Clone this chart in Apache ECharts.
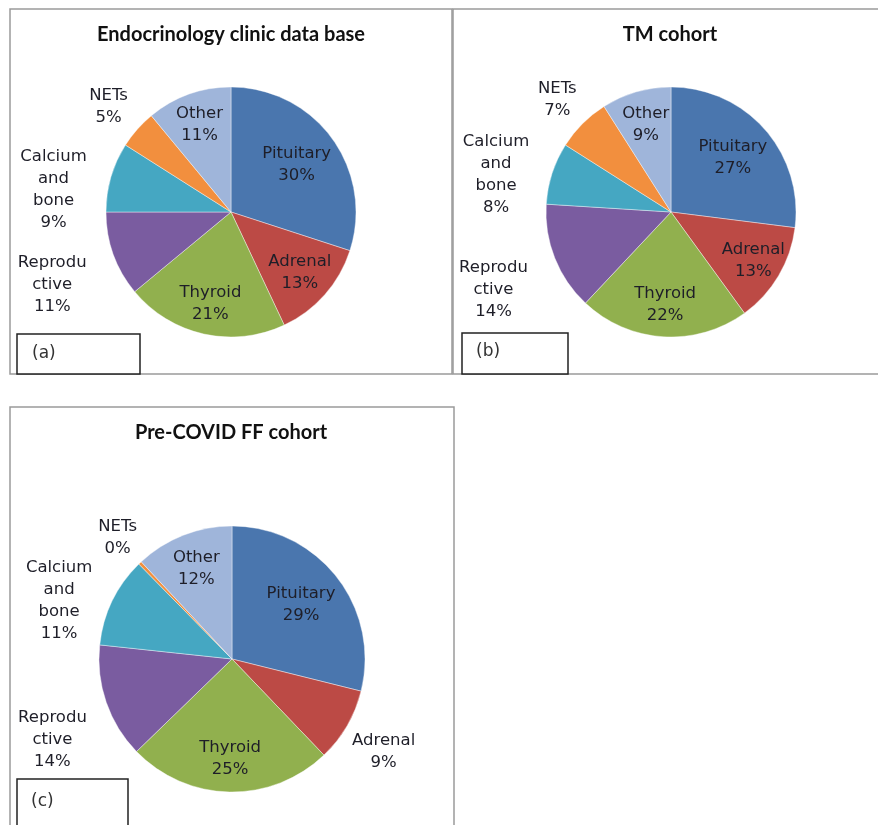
<!DOCTYPE html>
<html>
<head>
<meta charset="utf-8">
<script src="https://cdn.jsdelivr.net/npm/echarts@6/dist/echarts.min.js"></script>
<style>
  html, body { margin: 0; padding: 0; background: #ffffff; }
  #chart { width: 878px; height: 825px; }
</style>
</head>
<body>
<div id="chart"></div>
<script>
// ---- data ----
const categories = ['Pituitary', 'Adrenal', 'Thyroid', 'Reproductive', 'Calcium and bone', 'NETs', 'Other'];
const endocrinologyClinic = [30, 13, 21, 11, 9, 5, 11];
const tmCohort = [27, 13, 22, 14, 8, 7, 9];
const preCovidFF = [29, 9, 25, 14, 11, 0.4, 12];
const chartTitles = ['Endocrinology clinic data base', 'TM cohort', 'Pre-COVID FF cohort'];
const panelTags = ['(a)', '(b)', '(c)'];

// ---- styles ----
const colors = ['#4A76AE', '#BC4A45', '#91B04E', '#7A5CA0', '#45A7C2', '#F28F3E', '#9FB5DA'];
const wrapped = {
  'Reproductive': 'Reprodu\nctive',
  'Calcium and bone': 'Calcium\nand\nbone'
};
const labelFont = 'DejaVu Sans, Verdana, sans-serif';

// pie geometry (px) and label placement (inside: radial factor; outside: offset in radii)
const panels = [
  { data: endocrinologyClinic, center: [231, 212], r: 125,
    place: [{ k: 0.62 }, { k: 0.70 }, { k: 0.72 }, { o: [-1.43, 0.58] }, { o: [-1.42, -0.18] }, { o: [-0.98, -0.84] }, { k: 0.71 }] },
  { data: tmCohort, center: [671, 212], r: 125,
    place: [{ k: 0.63 }, { k: 0.73 }, { k: 0.71 }, { o: [-1.42, 0.62] }, { o: [-1.40, -0.30] }, { o: [-0.91, -0.90] }, { k: 0.69 }] },
  { data: preCovidFF, center: [232, 659], r: 133,
    place: [{ k: 0.63 }, { o: [1.14, 0.70] }, { k: 0.72 }, { o: [-1.35, 0.61] }, { o: [-1.30, -0.44] }, { o: [-0.86, -0.91] }, { k: 0.70 }] }
];

function makeLayout(p) {
  return function (params) {
    const pl = p.place[params.dataIndex];
    const rect = params.labelRect;
    const lx = rect.x + rect.width / 2;
    const ly = rect.y + rect.height / 2;
    let x, y;
    if (pl.k != null) {
      const s = pl.k / 0.5;
      x = p.center[0] + (lx - p.center[0]) * s;
      y = p.center[1] + (ly - p.center[1]) * s;
    } else {
      x = p.center[0] + pl.o[0] * p.r;
      y = p.center[1] + pl.o[1] * p.r;
    }
    return { x: x, y: y, align: 'center', verticalAlign: 'middle' };
  };
}

const series = panels.map(function (p, i) {
  return {
    type: 'pie',
    name: chartTitles[i],
    center: p.center,
    radius: p.r,
    startAngle: 90,
    clockwise: true,
    animation: false,
    silent: true,
    avoidLabelOverlap: false,
    itemStyle: { borderColor: 'rgba(255,255,255,0.5)', borderWidth: 0.8 },
    label: {
      show: true,
      position: 'inside',
      color: '#1e1e28',
      fontFamily: labelFont,
      fontSize: 16.5,
      lineHeight: 22,
      align: 'center',
      formatter: function (d) {
        return (wrapped[d.name] || d.name) + '\n' + Math.round(d.percent) + '%';
      }
    },
    labelLine: { show: false },
    labelLayout: makeLayout(p),
    emphasis: { disabled: true },
    data: categories.map(function (c, j) {
      return { name: c, value: p.data[j], itemStyle: { color: colors[j] } };
    })
  };
});

const borderColor = '#9a9a9a';
const boxColor = '#222';
const titleFont = 'bold 20px Lato, "Liberation Sans", sans-serif';
const tagFont = '17px DejaVu Sans, sans-serif';

const graphic = [
  // panel frames
  { type: 'rect', shape: { x: 10, y: 9, width: 442, height: 365 }, style: { fill: 'none', stroke: borderColor, lineWidth: 1.5 }, silent: true, z: -1 },
  { type: 'rect', shape: { x: 453, y: 9, width: 440, height: 365 }, style: { fill: 'none', stroke: borderColor, lineWidth: 1.5 }, silent: true, z: -1 },
  { type: 'rect', shape: { x: 10, y: 407, width: 444, height: 430 }, style: { fill: 'none', stroke: borderColor, lineWidth: 1.5 }, silent: true, z: -1 },
  // tag boxes
  { type: 'rect', shape: { x: 17, y: 334, width: 123, height: 40 }, style: { fill: '#fff', stroke: boxColor, lineWidth: 1.5 }, silent: true },
  { type: 'rect', shape: { x: 462, y: 333, width: 106, height: 41 }, style: { fill: '#fff', stroke: boxColor, lineWidth: 1.5 }, silent: true },
  { type: 'rect', shape: { x: 17, y: 779, width: 111, height: 60 }, style: { fill: '#fff', stroke: boxColor, lineWidth: 1.5 }, silent: true },
  { type: 'text', x: 32, y: 354, style: { text: panelTags[0], font: tagFont, fill: '#333', verticalAlign: 'middle' }, silent: true },
  { type: 'text', x: 476, y: 352, style: { text: panelTags[1], font: tagFont, fill: '#333', verticalAlign: 'middle' }, silent: true },
  { type: 'text', x: 31, y: 802, style: { text: panelTags[2], font: tagFont, fill: '#333', verticalAlign: 'middle' }, silent: true },
  // titles
  { type: 'text', x: 231, y: 35, style: { text: chartTitles[0], font: titleFont, fill: '#111', align: 'center', verticalAlign: 'middle' }, silent: true },
  { type: 'text', x: 670, y: 35, style: { text: chartTitles[1], font: titleFont, fill: '#111', align: 'center', verticalAlign: 'middle' }, silent: true },
  { type: 'text', x: 231, y: 433, style: { text: chartTitles[2], font: titleFont, fill: '#111', align: 'center', verticalAlign: 'middle' }, silent: true }
];

const chart = echarts.init(document.getElementById('chart'), null, { renderer: 'canvas' });
chart.setOption({
  backgroundColor: '#ffffff',
  animation: false,
  graphic: graphic,
  series: series
});
</script>
</body>
</html>
